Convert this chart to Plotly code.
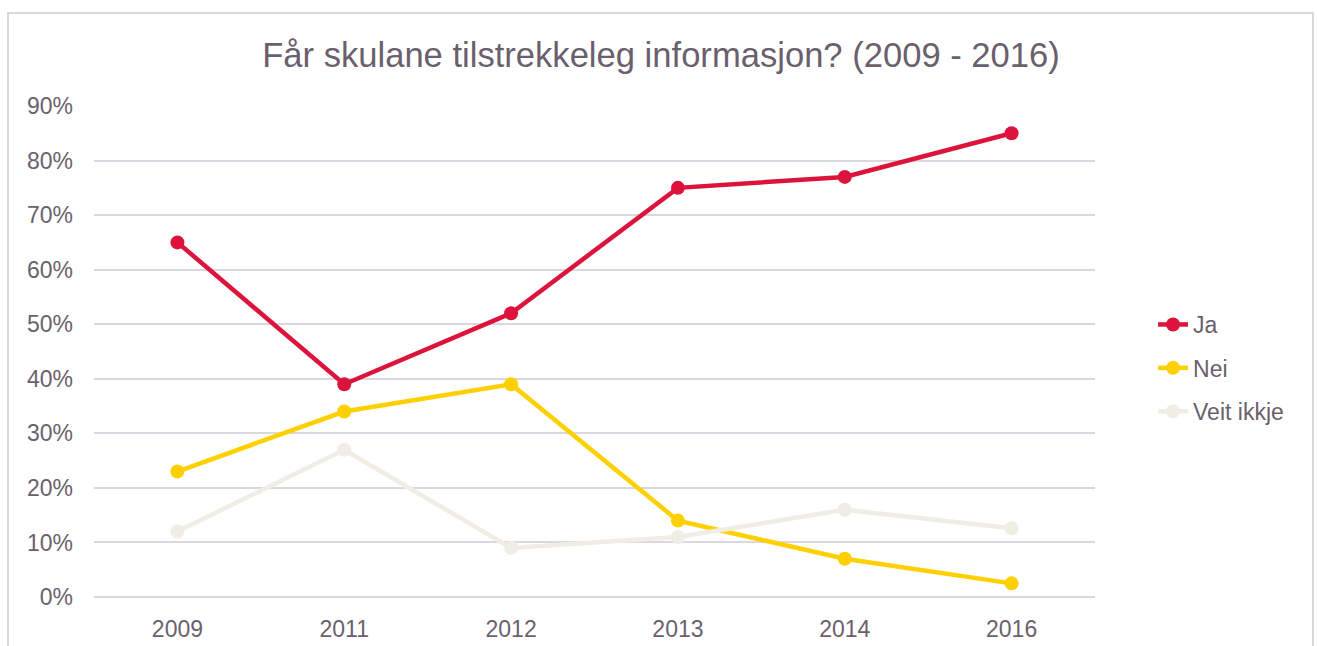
import plotly.graph_objects as go

years = ["2009", "2011", "2012", "2013", "2014", "2016"]
ja = [65, 39, 52, 75, 77, 85]
nei = [23, 34, 39, 14, 7, 2.5]
veit = [12, 27, 9, 11, 16, 12.6]

series = [("Ja", ja, "#DC143C"), ("Nei", nei, "#FFD000"), ("Veit ikkje", veit, "#F0EDE5")]
txt = "#6B5F6E"
fig = go.Figure()
for name, vals, col in series:
    fig.add_trace(go.Scatter(x=years, y=vals, name=name, mode="lines+markers",
                             legendgroup=name,
                             line=dict(color=col, width=4.5),
                             marker=dict(color=col, size=14)))

fig.update_layout(
    width=1317, height=646,
    margin=dict(l=94, r=222, t=106, b=49, autoexpand=False),
    paper_bgcolor="white", plot_bgcolor="white",
    font=dict(family="Liberation Sans, Arial, sans-serif", color=txt, size=23),
    title=dict(text="Får skulane tilstrekkeleg informasjon? (2009 - 2016)",
               x=661/1317, xanchor="center", y=1-55/646, yanchor="middle",
               font=dict(size=34.6, color=txt)),
    xaxis=dict(type="category", range=[-0.5, 5.5], showgrid=False, showline=False,
               automargin=False,
               ticks="", tickfont=dict(size=23, color=txt), ticklabelstandoff=16),
    yaxis=dict(range=[0, 90], dtick=10, ticksuffix="%", showgrid=True, automargin=False,
               gridcolor="#DCD7DE", gridwidth=1.5, zeroline=True, zerolinecolor="#DCD7DE",
               zerolinewidth=1.5, showline=False, tickfont=dict(size=23, color=txt),
               ticklabelstandoff=20),
    legend=dict(x=1.035 + 23/1001, xanchor="left", y=(597-323+22)/491 - 2/491, yanchor="top",
                font=dict(size=23, color=txt), tracegroupgap=10.5, traceorder="grouped",
                itemwidth=30),
    showlegend=True,
)
fig.add_shape(type="rect", xref="paper", yref="paper",
              x0=(8-94)/1001, x1=(1313-94)/1001, y0=(597-680)/491, y1=(597-13)/491,
              line=dict(color="#D9D9D9", width=2), fillcolor="rgba(0,0,0,0)", layer="below")
fig.write_html("out.html", config={"displayModeBar": False},
               post_script="document.body.style.margin='0';document.body.style.overflow='hidden';")
